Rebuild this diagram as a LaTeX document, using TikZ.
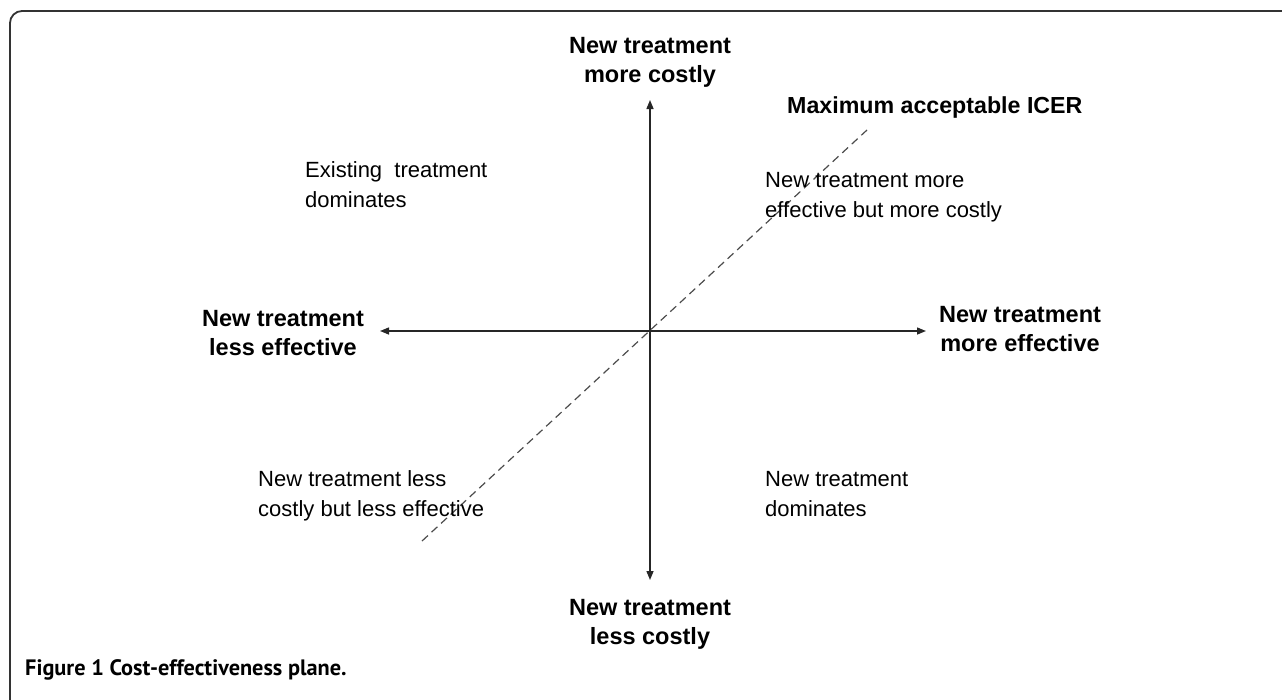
\documentclass[tikz,border=0pt]{standalone}
\usepackage{fontspec}
\setmainfont{Liberation Sans}
\newfontfamily\capfont{PT Sans}
\usetikzlibrary{arrows.meta}
\begin{document}
\begin{tikzpicture}[x=1pt,y=-1pt,
  boldlbl/.style={font=\fontsize{23.5}{29}\selectfont\bfseries, align=center, inner sep=0pt},
  reglbl/.style={font=\fontsize{22}{30}\selectfont, align=left, inner sep=0pt, anchor=base west},
  axis/.style={line width=1.4pt, draw=black!85, -{Triangle[length=9pt,width=7pt]}},
  icer/.style={line width=1.2pt, draw=black!70, dash pattern=on 8pt off 5pt},
  frame/.style={line width=1.8pt, draw=black!80, rounded corners=12pt}]
\useasboundingbox (0,0) rectangle (1282,699);
\draw[frame] (10,710) -- (10,11) -- (1300,11);
% axis ends
\coordinate (o) at (650,331);
\coordinate (top) at (650,100);
\coordinate (bot) at (650,580);
\coordinate (lft) at (380,331);
\coordinate (rgt) at (926,331);
\coordinate (d1) at (422,541);
\coordinate (d2) at (867,130);
\draw[icer] (d1) -- (d2);
\draw[axis] (o) -- (top);
\draw[axis] (o) -- (bot);
\draw[axis] (o) -- (lft);
\draw[axis] (o) -- (rgt);
% labels
\node[boldlbl] (ltop) at (650,62) {New treatment\\more costly};
\node[boldlbl] (lbot) at (650,624) {New treatment\\less costly};
\node[boldlbl] (llft) at (283,333) {New treatment\\less effective};
\node[boldlbl] (lrgt) at (1020,329) {New treatment\\more effective};
\node[font=\fontsize{23.2}{29}\selectfont\bfseries, inner sep=0pt, anchor=base west] (licer) at (787,113) {Maximum acceptable ICER};
\node[reglbl] (q2) at (305,207) {Existing\ \ treatment\\dominates};
\node[reglbl] (q1) at (765,217) {New treatment more\\effective but more costly};
\node[reglbl] (q3) at (258,516) {New treatment less\\costly but less effective};
\node[reglbl] (q4) at (765,516) {New treatment\\dominates};
\node[font=\capfont\fontsize{22.3}{26}\selectfont\bfseries, inner sep=0pt, anchor=base west] (cap) at (25,675) {Figure 1 Cost-effectiveness plane.};
\end{tikzpicture}
\end{document}
